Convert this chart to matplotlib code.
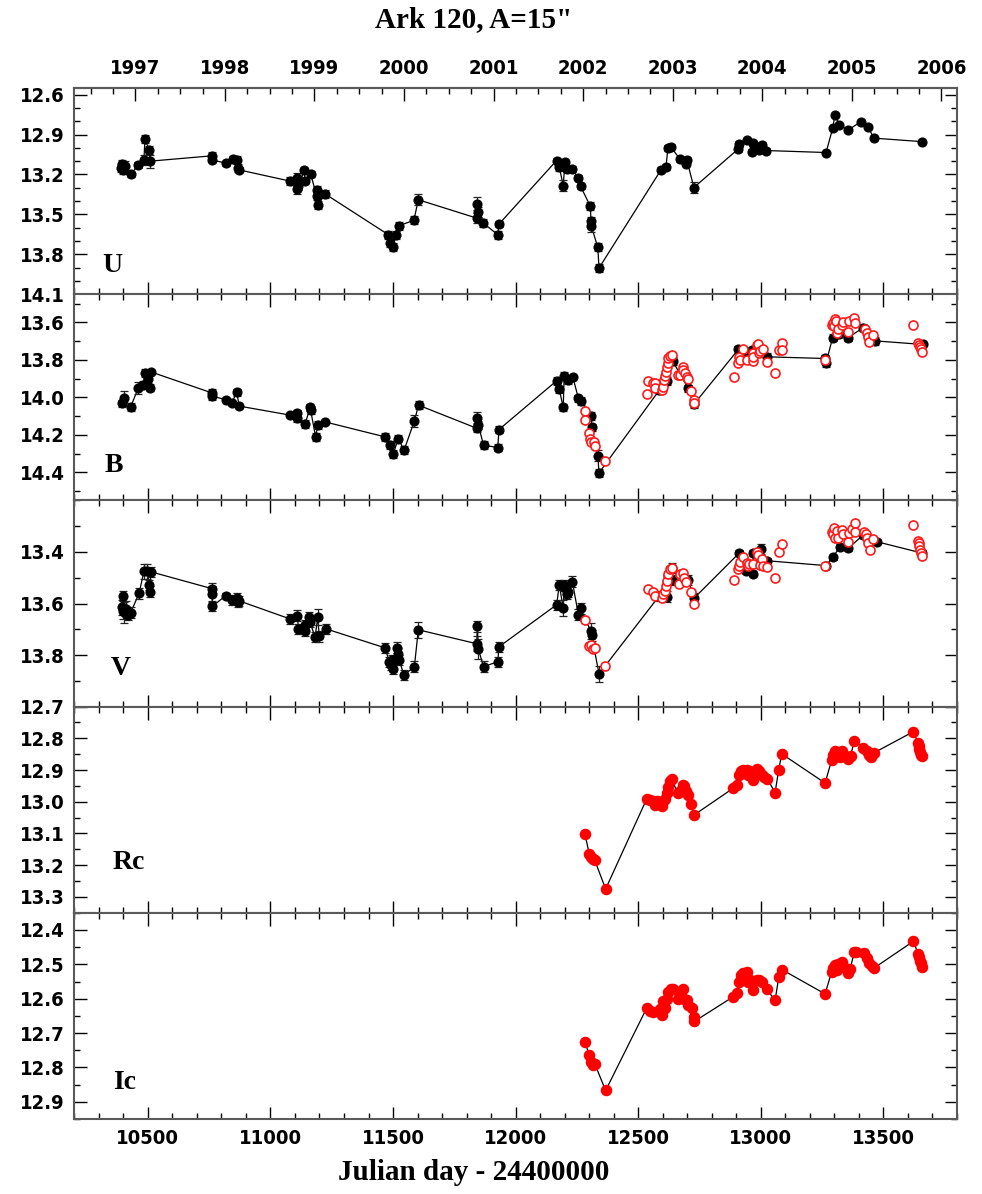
"""Ark 120 multi-band light curves (U, B, V, Rc, Ic)."""

import matplotlib
matplotlib.use("Agg")
import matplotlib.pyplot as plt
from matplotlib.ticker import MultipleLocator, FixedLocator, FormatStrFormatter

# ---------------------------------------------------------------- data
jd_u = [10390, 10395, 10400, 10405, 10430, 10461, 10484, 10488, 10506, 10509,
        10760, 10762, 10817, 10846, 10862, 10866, 10871,
        11080, 11107, 11110, 11114, 11138, 11141, 11164, 11189, 11191, 11195, 11222,
        11481, 11488, 11499, 11512, 11524, 11585, 11603,
        11841, 11844, 11846, 11868, 11927, 11932,
        12167, 12178, 12194, 12201, 12208, 12228, 12256, 12265, 12305, 12307, 12309, 12335, 12340,
        12593, 12613, 12621, 12632, 12670, 12695, 12698, 12727,
        12908, 12912, 12945, 12964, 12969, 12976, 12994, 13003, 13021,
        13266, 13293, 13302, 13320, 13357, 13408, 13438, 13461, 13656]
mag_u = [13.15, 13.12, 13.17, 13.14, 13.20, 13.13, 13.09, 12.935, 13.015, 13.10,
         13.06, 13.09, 13.115, 13.08, 13.09, 13.155, 13.165,
         13.25, 13.31, 13.227, 13.29, 13.17, 13.247, 13.197, 13.365, 13.315, 13.428, 13.345,
         13.653, 13.715, 13.748, 13.653, 13.585, 13.545, 13.39,
         13.528, 13.42, 13.483, 13.565, 13.653, 13.573,
         13.095, 13.145, 13.283, 13.11, 13.16, 13.16, 13.223, 13.29, 13.44, 13.553, 13.59, 13.748, 13.903,
         13.165, 13.145, 13.0, 12.99, 13.085, 13.12, 13.09, 13.298,
         13.008, 12.97, 12.94, 13.028, 12.965, 12.99, 13.015, 12.978, 13.02,
         13.035, 12.853, 12.753, 12.828, 12.865, 12.803, 12.845, 12.927, 12.953]
err_u = [0.03, 0.03, 0.03, 0.04, 0.02, 0.02, 0.04, 0.03, 0.03, 0.05,
         0.03, 0.02, 0.02, 0.02, 0.03, 0.03, 0.02,
         0.03, 0.04, 0.04, 0.03, 0.02, 0.02, 0.02, 0.03, 0.03, 0.03, 0.03,
         0.03, 0.03, 0.03, 0.03, 0.03, 0.03, 0.04,
         0.04, 0.05, 0.04, 0.03, 0.03, 0.02,
         0.02, 0.03, 0.04, 0.02, 0.02, 0.02, 0.02, 0.02, 0.03, 0.03, 0.04, 0.03, 0.03,
         0.02, 0.02, 0.02, 0.02, 0.02, 0.02, 0.02, 0.04,
         0.02, 0.02, 0.01, 0.02, 0.02, 0.02, 0.02, 0.02, 0.02,
         0.01, 0.01, 0.01, 0.01, 0.01, 0.01, 0.01, 0.01, 0.01]

jd_b = [10393, 10404, 10430, 10461, 10481, 10488, 10502, 10509, 10511,
        10760, 10762, 10817, 10842, 10862, 10873,
        11080, 11107, 11110, 11141, 11162, 11164, 11184, 11193, 11222,
        11467, 11488, 11501, 11521, 11545, 11587, 11604,
        11841, 11844, 11848, 11869, 11927, 11932,
        12167, 12178, 12194, 12198, 12212, 12233, 12256, 12265, 12308, 12310, 12335, 12340,
        12586, 12616, 12640, 12704, 12727,
        12908, 12945, 12964, 12975, 12985, 13024,
        13262, 13266, 13293, 13320, 13357, 13418, 13466, 13660]
mag_b = [14.033, 14.006, 14.051, 13.95, 13.935, 13.87, 13.905, 13.948, 13.864,
         13.976, 13.994, 14.012, 14.033, 13.974, 14.047,
         14.095, 14.086, 14.113, 14.143, 14.054, 14.069, 14.211, 14.149, 14.131,
         14.211, 14.255, 14.303, 14.22, 14.282, 14.126, 14.042,
         14.165, 14.108, 14.149, 14.255, 14.268, 14.172,
         13.912, 13.958, 14.054, 13.887, 13.909, 13.891, 14.006, 14.019, 14.1, 14.161, 14.312, 14.403,
         13.962, 13.912, 13.806, 13.953, 14.037,
         13.745, 13.758, 13.75, 13.755, 13.76, 13.784,
         13.793, 13.816, 13.681, 13.66, 13.681, 13.628, 13.699, 13.718]
err_b = [0.02, 0.04, 0.02, 0.03, 0.02, 0.02, 0.02, 0.02, 0.01,
         0.02, 0.02, 0.01, 0.01, 0.02, 0.01,
         0.01, 0.02, 0.02, 0.02, 0.02, 0.02, 0.02, 0.02, 0.01,
         0.02, 0.02, 0.02, 0.02, 0.02, 0.03, 0.02,
         0.02, 0.03, 0.02, 0.02, 0.02, 0.02,
         0.02, 0.02, 0.02, 0.02, 0.02, 0.01, 0.02, 0.02, 0.02, 0.02, 0.03, 0.02,
         0.02, 0.02, 0.02, 0.02, 0.02,
         0.02, 0.01, 0.01, 0.01, 0.01, 0.02,
         0.02, 0.02, 0.02, 0.02, 0.02, 0.02, 0.02, 0.01]

jd_b_red = [12283, 12283, 12300, 12303, 12306, 12321, 12324, 12364,
            12537, 12538, 12559, 12568, 12568, 12596, 12600, 12605, 12609, 12612, 12616,
            12620, 12623, 12630, 12636,
            12663, 12670, 12681, 12684, 12691, 12698, 12704, 12715, 12727, 12729,
            12892, 12908, 12912, 12915, 12926, 12945, 12967, 12967, 12969, 12983, 12990,
            12994, 12997, 13010, 13024,
            13058, 13073, 13085, 13085,
            13262, 13289, 13293, 13298, 13302, 13306, 13312, 13316, 13330, 13334,
            13357, 13361, 13381, 13384,
            13425, 13432, 13438, 13442, 13459,
            13622, 13642, 13646, 13649, 13652, 13656]
mag_b_red = [14.072, 14.122, 14.19, 14.22, 14.238, 14.238, 14.259, 14.341,
             13.983, 13.912, 13.926, 13.925, 13.953, 13.962, 13.944, 13.909, 13.887, 13.864, 13.838,
             13.816, 13.793, 13.781, 13.775,
             13.882, 13.882, 13.841, 13.855, 13.873, 13.894, 13.905, 13.966, 14.012, 14.028,
             13.894, 13.816, 13.784, 13.802, 13.74, 13.802, 13.763, 13.806, 13.784, 13.722, 13.717,
             13.766, 13.754, 13.745, 13.811,
             13.87, 13.749, 13.71, 13.749,
             13.802, 13.615, 13.603, 13.621, 13.58, 13.592, 13.656, 13.638, 13.612, 13.598,
             13.654, 13.592, 13.575, 13.603,
             13.633, 13.656, 13.678, 13.704, 13.669,
             13.615, 13.71, 13.722, 13.734, 13.745, 13.758]

jd_v = [10393, 10398, 10400, 10404, 10410, 10420, 10430, 10464, 10484, 10498, 10506, 10509, 10512,
        10760, 10762, 10763, 10817, 10844, 10862, 10867, 10873,
        11080, 11110, 11114, 11139, 11141, 11159, 11161, 11182, 11193, 11199, 11225,
        11467, 11485, 11490, 11494, 11501, 11515, 11521, 11524, 11545, 11587, 11603,
        11841, 11844, 11848, 11869, 11927, 11932,
        12167, 12178, 12194, 12198, 12205, 12208, 12212, 12231, 12256, 12265, 12306, 12310, 12340,
        12586, 12616, 12620, 12636, 12638, 12704, 12727,
        12912, 12939, 12967, 12969, 12995, 13001, 13024,
        13266, 13293, 13323, 13357, 13418, 13472, 13656]
mag_v = [13.615, 13.63, 13.57, 13.634, 13.621, 13.643, 13.635, 13.561, 13.475, 13.475, 13.528, 13.554, 13.477,
         13.542, 13.564, 13.611, 13.57, 13.587, 13.58, 13.595, 13.59,
         13.66, 13.647, 13.698, 13.685, 13.705, 13.653, 13.672, 13.73, 13.653, 13.728, 13.698,
         13.772, 13.826, 13.839, 13.82, 13.855, 13.771, 13.794, 13.819, 13.877, 13.845, 13.702,
         13.756, 13.689, 13.777, 13.845, 13.826, 13.768,
         13.605, 13.528, 13.618, 13.53, 13.545, 13.564, 13.555, 13.515, 13.643, 13.619, 13.707, 13.724, 13.873,
         13.57, 13.573, 13.494, 13.461, 13.51, 13.51, 13.58,
         13.404, 13.472, 13.484, 13.404, 13.451, 13.388, 13.434,
         13.453, 13.42, 13.381, 13.385, 13.334, 13.36, 13.404]
err_v = [0.03, 0.03, 0.02, 0.04, 0.03, 0.02, 0.02, 0.02, 0.03, 0.03, 0.02, 0.02, 0.02,
         0.02, 0.03, 0.02, 0.01, 0.02, 0.02, 0.02, 0.02,
         0.02, 0.02, 0.02, 0.02, 0.02, 0.02, 0.02, 0.02, 0.03, 0.02, 0.02,
         0.02, 0.02, 0.02, 0.02, 0.02, 0.02, 0.02, 0.02, 0.02, 0.02, 0.03,
         0.03, 0.02, 0.04, 0.02, 0.02, 0.02,
         0.02, 0.02, 0.03, 0.02, 0.02, 0.02, 0.02, 0.02, 0.02, 0.02, 0.03, 0.02, 0.03,
         0.02, 0.02, 0.02, 0.02, 0.02, 0.02, 0.02,
         0.01, 0.01, 0.01, 0.01, 0.01, 0.02, 0.01,
         0.01, 0.01, 0.01, 0.01, 0.01, 0.01, 0.01]

jd_v_red = [12283, 12300, 12306, 12314, 12324, 12364,
            12538, 12559, 12568, 12596, 12602, 12609, 12612, 12616, 12623, 12630, 12636,
            12666, 12670, 12681, 12688, 12694, 12715, 12729,
            12892, 12908, 12912, 12915, 12926, 12945, 12946, 12953, 12969, 12983, 12990,
            12997, 13003, 13010, 13024,
            13058, 13073, 13085,
            13262, 13289, 13296, 13300, 13302, 13309, 13316, 13330, 13334, 13357, 13361,
            13371, 13384, 13385,
            13422, 13429, 13434, 13438, 13445, 13459,
            13622, 13642, 13645, 13646, 13649, 13652, 13656]
mag_v_red = [13.664, 13.764, 13.762, 13.775, 13.773, 13.842,
             13.545, 13.554, 13.57, 13.577, 13.564, 13.551, 13.532, 13.513, 13.485, 13.468, 13.464,
             13.526, 13.487, 13.481, 13.5, 13.515, 13.557, 13.602,
             13.51, 13.468, 13.455, 13.44, 13.421, 13.443, 13.455, 13.445, 13.446, 13.401, 13.412,
             13.45, 13.428, 13.455, 13.459,
             13.5, 13.401, 13.369,
             13.453, 13.324, 13.331, 13.309, 13.344, 13.319, 13.347, 13.315, 13.331, 13.36, 13.328,
             13.312, 13.289, 13.321,
             13.321, 13.331, 13.344, 13.366, 13.392, 13.349,
             13.296, 13.356, 13.365, 13.378, 13.392, 13.404, 13.417]

jd_rc = [12283, 12300, 12306, 12314, 12323, 12367,
         12534, 12548, 12561, 12568, 12575, 12596, 12602, 12609, 12616, 12623, 12630, 12636,
         12661, 12670, 12681, 12686, 12694, 12702, 12715, 12727,
         12888, 12902, 12911, 12919, 12929, 12942, 12949, 12956, 12967, 12983, 12994, 13003, 13013, 13026,
         13058, 13073, 13085,
         13262, 13289, 13296, 13302, 13306, 13316, 13323, 13330, 13336,
         13357, 13366, 13381,
         13418, 13432, 13442, 13449, 13463,
         13622, 13642, 13645, 13646, 13649, 13653, 13656]
mag_rc = [13.103, 13.164, 13.175, 13.18, 13.185, 13.275,
          12.992, 12.994, 12.998, 13.011, 12.998, 13.014, 12.998, 12.992, 12.973, 12.955, 12.934, 12.928,
          12.973, 12.965, 12.948, 12.951, 12.967, 12.98, 13.007, 13.042,
          12.957, 12.946, 12.915, 12.904, 12.899, 12.899, 12.915, 12.904, 12.931, 12.896, 12.902, 12.915, 12.923, 12.927,
          12.971, 12.899, 12.849,
          12.941, 12.868, 12.852, 12.841, 12.857, 12.846, 12.86, 12.841, 12.85,
          12.866, 12.855, 12.808,
          12.83, 12.841, 12.852, 12.86, 12.845,
          12.779, 12.816, 12.824, 12.835, 12.844, 12.851, 12.855]

jd_ic = [12283, 12300, 12306, 12314, 12323, 12367,
         12534, 12548, 12561, 12589, 12596, 12600, 12605, 12609, 12616, 12623, 12632, 12640,
         12661, 12670, 12684, 12686, 12698, 12704, 12718, 12727, 12729,
         12888, 12902, 12911, 12919, 12929, 12942, 12949, 12956, 12967, 12983, 12994, 13003, 13024,
         13058, 13073, 13085,
         13262, 13289, 13296, 13302, 13309, 13316, 13330, 13336,
         13357, 13364, 13381, 13388,
         13421, 13432, 13442, 13452, 13461,
         13622, 13642, 13646, 13649, 13652, 13656]
mag_ic = [12.725, 12.765, 12.785, 12.794, 12.79, 12.867,
          12.628, 12.635, 12.64, 12.63, 12.647, 12.606, 12.62, 12.628, 12.601, 12.581, 12.572, 12.573,
          12.6, 12.593, 12.572, 12.6, 12.605, 12.618, 12.628, 12.654, 12.666,
          12.594, 12.584, 12.55, 12.531, 12.526, 12.521, 12.55, 12.545, 12.574, 12.545, 12.545, 12.55, 12.572,
          12.605, 12.538, 12.515,
          12.586, 12.521, 12.511, 12.502, 12.516, 12.499, 12.492, 12.504,
          12.524, 12.514, 12.465, 12.463,
          12.467, 12.482, 12.496, 12.505, 12.511,
          12.433, 12.47, 12.48, 12.49, 12.497, 12.507]

# Jan 1 of each year, JD - 2440000
year_labels = ["1997", "1998", "1999", "2000", "2001", "2002", "2003", "2004", "2005", "2006"]
year_jd = [10449.5, 10814.5, 11179.5, 11544.5, 11910.5, 12275.5,
           12640.5, 13005.5, 13371.5, 13736.5]
year_edges = [10083.5] + year_jd + [14101.5]

bands = ["U", "B", "V", "Rc", "Ic"]
ylims = [(14.1, 12.55), (14.55, 13.45), (14.0, 13.2), (13.35, 12.7), (12.95, 12.35)]
yticks = [[12.6, 12.9, 13.2, 13.5, 13.8, 14.1],
          [13.6, 13.8, 14.0, 14.2, 14.4],
          [13.4, 13.6, 13.8],
          [12.7, 12.8, 12.9, 13.0, 13.1, 13.2, 13.3],
          [12.4, 12.5, 12.6, 12.7, 12.8, 12.9]]
yminor = [0.1, 0.1, 0.1, 0.05, 0.05]
label_pos = [(0.032, 0.14), (0.034, 0.17), (0.041, 0.185), (0.043, 0.245), (0.044, 0.175)]

# ---------------------------------------------------------------- style
plt.rcParams["font.family"] = ["DejaVu Sans"]
plt.rcParams["font.weight"] = "bold"
plt.rcParams["font.stretch"] = "condensed"
SERIF = ["Liberation Serif", "DejaVu Serif"]
FRAME = "#5a5a5a"
TICK_FS = 14.5

W, H = 982, 1194
fig = plt.figure(figsize=(W / 100, H / 100), dpi=100)

x0, x1 = 74.3, 957.0
top0, ph = 88.0, 206.2

axes = []
for i in range(5):
    top = top0 + i * ph
    ax = fig.add_axes([x0 / W, 1 - (top + ph) / H, (x1 - x0) / W, ph / H])
    axes.append(ax)

black_data = [(jd_u, mag_u, err_u), (jd_b, mag_b, err_b), (jd_v, mag_v, err_v)]
red_open = {1: (jd_b_red, mag_b_red), 2: (jd_v_red, mag_v_red)}
red_fill = {3: (jd_rc, mag_rc), 4: (jd_ic, mag_ic)}

for i, ax in enumerate(axes):
    if i < 3:
        jd, mag, err = black_data[i]
        ax.plot(jd, mag, "-", color="black", lw=0.9, zorder=2)
        ax.errorbar(jd, mag, yerr=err, fmt="o", color="black", ms=6.3,
                    ecolor="#222222", elinewidth=0.9, capsize=3, capthick=0.9, zorder=3)
    if i in red_open:
        jd, mag = red_open[i]
        ax.plot(jd, mag, "o", ms=6.5, mfc="white", mec="#ff1a1a", mew=1.2, ls="none", zorder=4)
    if i in red_fill:
        jd, mag = red_fill[i]
        ax.plot(jd, mag, "-", color="black", lw=0.9, zorder=2)
        ax.plot(jd, mag, "o", ms=7.3, color="#ff0000", ls="none", zorder=3)

    ax.set_xlim(10200, 13800)
    ax.set_ylim(*ylims[i])
    ax.xaxis.set_major_locator(MultipleLocator(500))
    ax.xaxis.set_minor_locator(MultipleLocator(100))
    ax.yaxis.set_major_locator(FixedLocator(yticks[i]))
    ax.yaxis.set_minor_locator(MultipleLocator(yminor[i]))
    ax.yaxis.set_major_formatter(FormatStrFormatter("%.1f"))
    ax.tick_params(which="both", direction="in", top=(i > 0), right=True,
                   color="black", width=1.0, labelsize=TICK_FS)
    ax.tick_params(which="major", length=9, pad=7)
    ax.tick_params(which="minor", length=4.5)
    if i < 4:
        ax.tick_params(axis="x", labelbottom=False)
    for sp in ax.spines.values():
        sp.set_color(FRAME)
        sp.set_linewidth(1.5)
    ax.text(label_pos[i][0], label_pos[i][1], bands[i], transform=ax.transAxes,
            ha="left", va="center", fontsize=20, fontweight="bold", family=SERIF,
            fontstretch="normal")

# year axis on top of the first panel
sec = axes[0].secondary_xaxis("top")
sec.set_xticks(year_jd)
sec.set_xticklabels(year_labels)
quarters = []
for a, b in zip(year_edges[:-1], year_edges[1:]):
    quarters += [a + (b - a) * k / 4 for k in (1, 2, 3)]
sec.xaxis.set_minor_locator(FixedLocator(quarters))
sec.tick_params(which="both", direction="in", color="black", width=1.0, labelsize=TICK_FS)
sec.tick_params(which="major", length=9, pad=7)
sec.tick_params(which="minor", length=4.5)
sec.spines["top"].set_color(FRAME)
sec.spines["top"].set_linewidth(1.5)

fig.text(474 / W, 1 - 20 / H, "Ark 120, A=15\"", ha="center", va="center",
         fontsize=21, fontweight="bold", family=SERIF, fontstretch="normal")
fig.text(474 / W, 1 - 1172 / H, "Julian day - 24400000", ha="center", va="center",
         fontsize=21, fontweight="bold", family=SERIF, fontstretch="normal")

fig.savefig("out.png", dpi=100)
